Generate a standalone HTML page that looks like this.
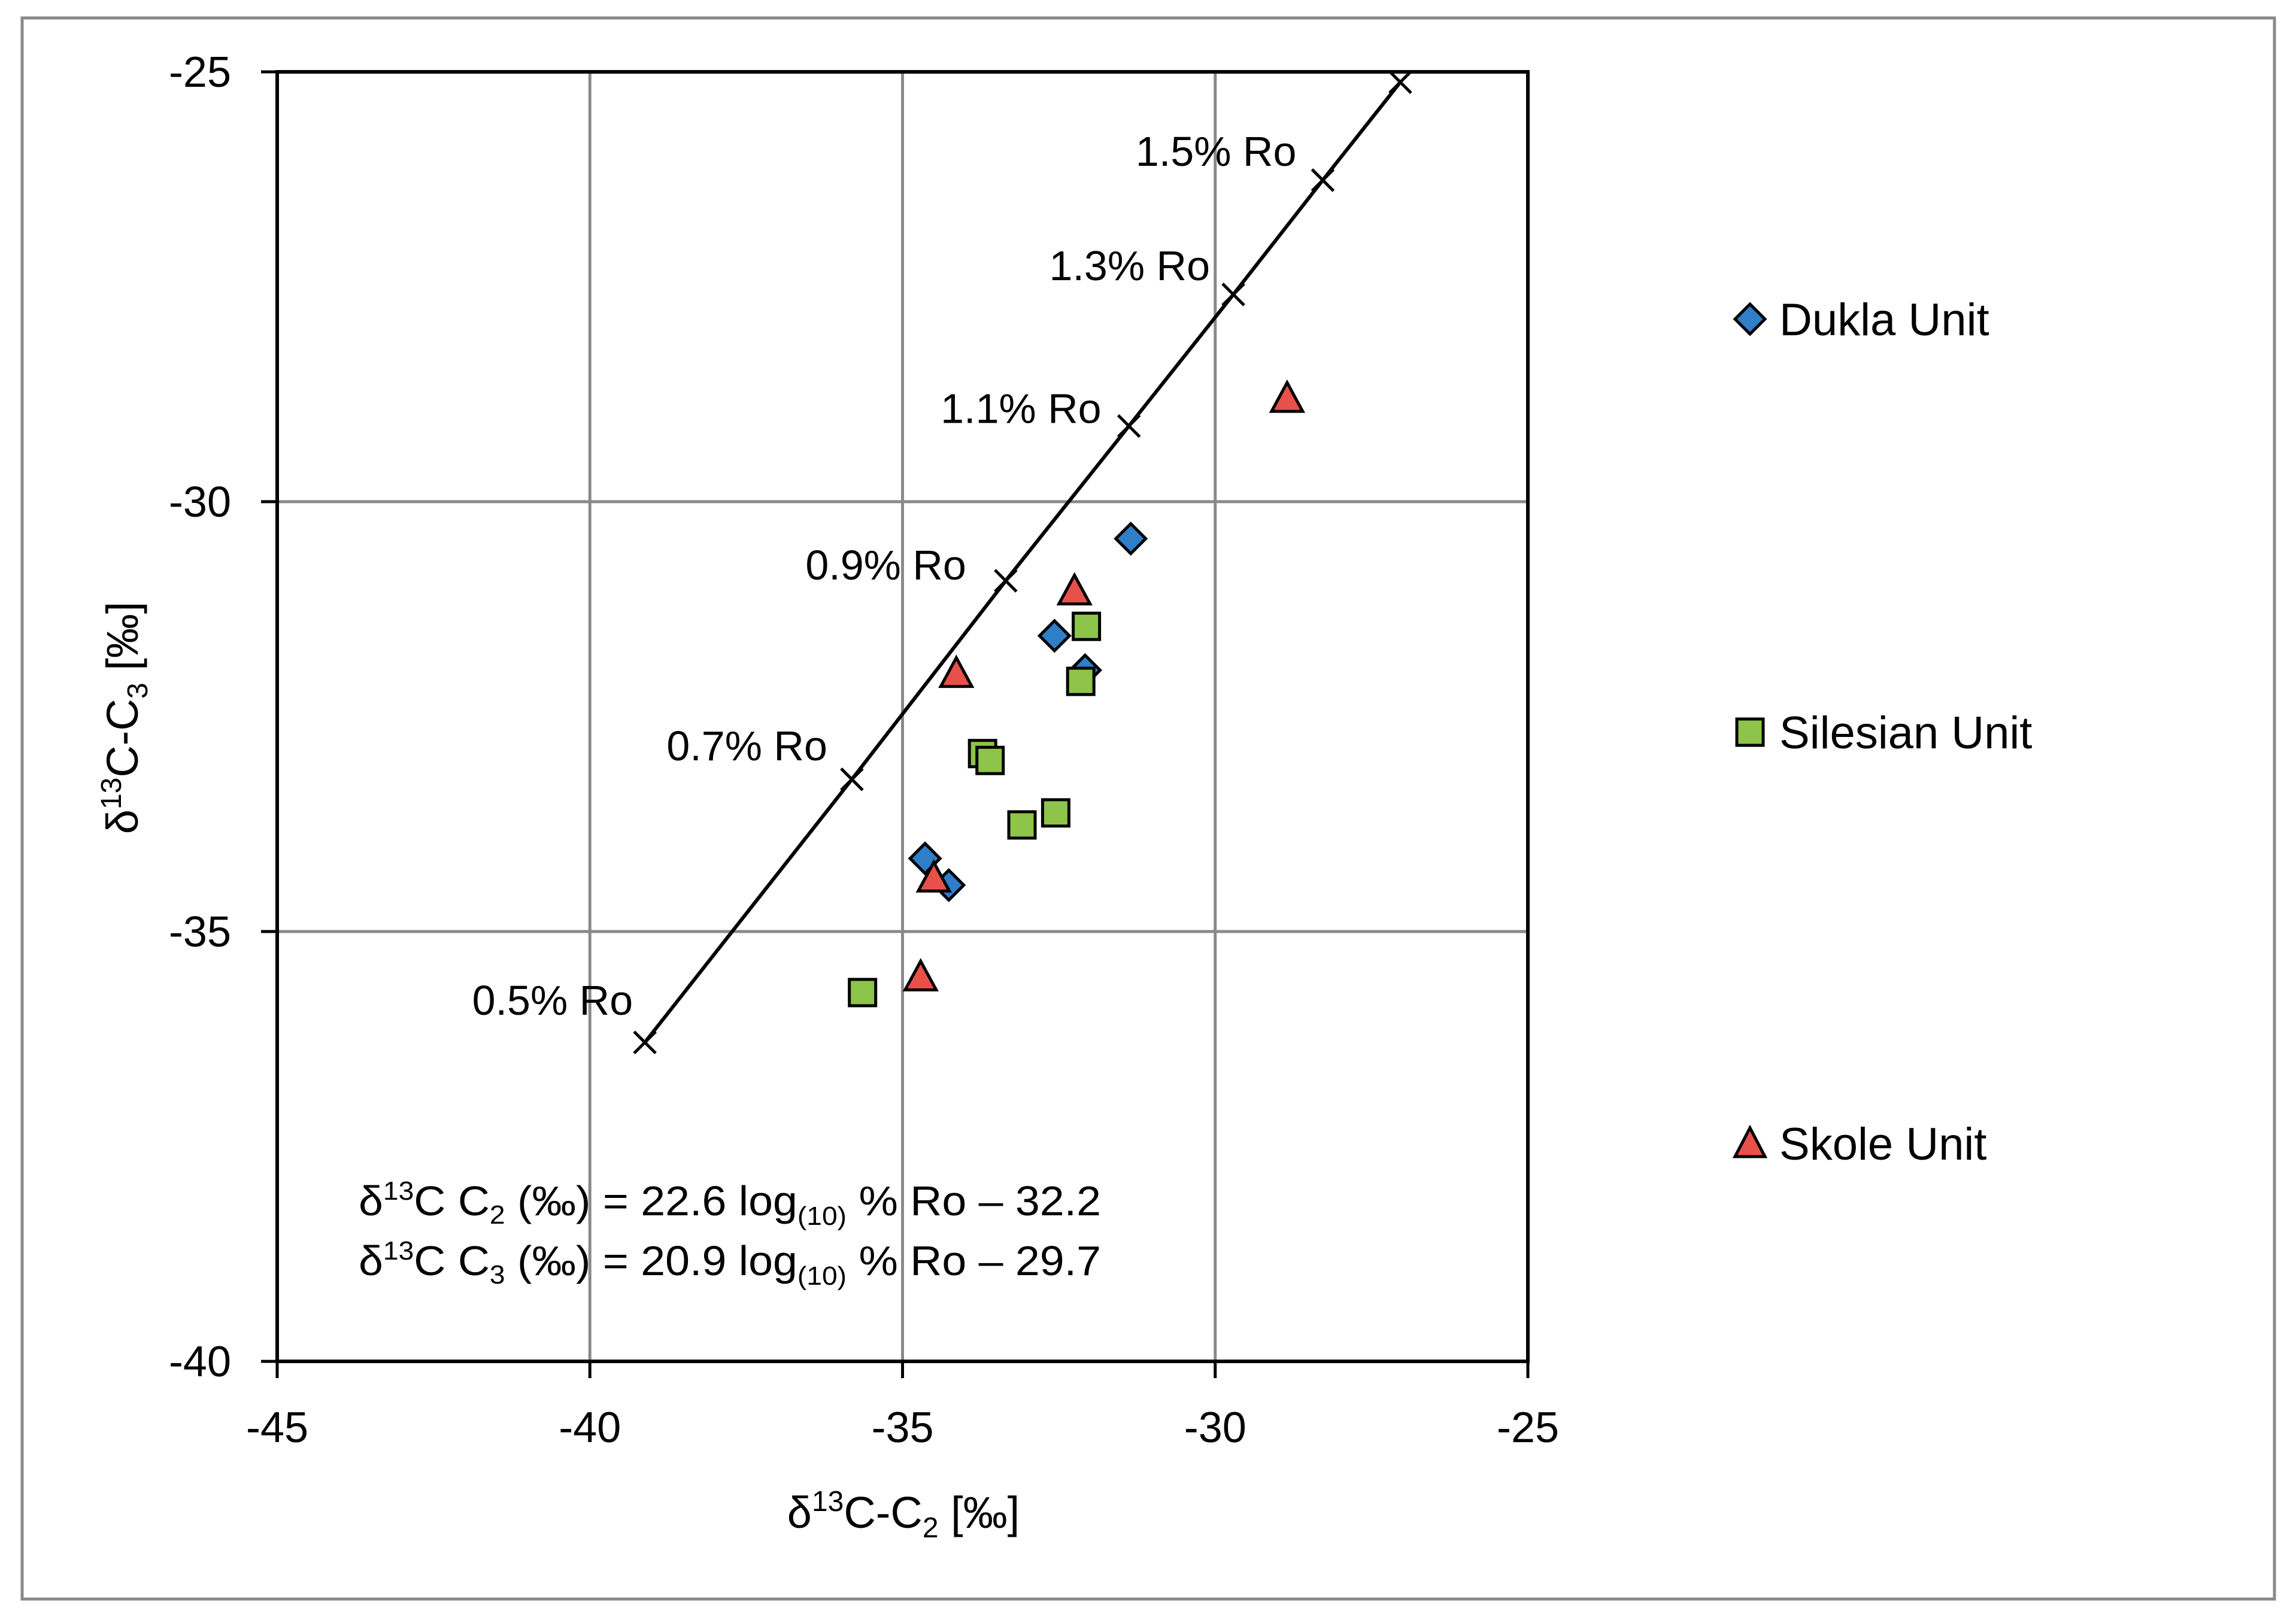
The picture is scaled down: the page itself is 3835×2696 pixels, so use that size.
<!DOCTYPE html>
<html><head><meta charset="utf-8"><style>
html,body{margin:0;padding:0;background:#fff}
svg{display:block;font-family:"Liberation Sans",sans-serif}
</style></head><body>
<svg id="chart" width="3835" height="2696" viewBox="0 0 3835 2696" xmlns="http://www.w3.org/2000/svg">
<rect x="37" y="30" width="3762" height="2641" fill="#fff" stroke="#898989" stroke-width="5"/>
<g id="grid"></g>
<g id="axes"></g>
<g id="roline"></g>
<g id="marks"></g>
<text x="599" y="2030" font-size="70" textLength="1240" lengthAdjust="spacingAndGlyphs">δ<tspan font-size="44" dy="-26">13</tspan><tspan dy="26">C C</tspan><tspan font-size="44" dy="14">2</tspan><tspan dy="-14"> (‰) = 22.6 log</tspan><tspan font-size="44" dy="16">(10)</tspan><tspan dy="-16"> % Ro – 32.2</tspan></text>
<text x="599" y="2130" font-size="70" textLength="1240" lengthAdjust="spacingAndGlyphs">δ<tspan font-size="44" dy="-26">13</tspan><tspan dy="26">C C</tspan><tspan font-size="44" dy="14">3</tspan><tspan dy="-14"> (‰) = 20.9 log</tspan><tspan font-size="44" dy="16">(10)</tspan><tspan dy="-16"> % Ro – 29.7</tspan></text>
<text x="1509" y="2552" font-size="74" text-anchor="middle">δ<tspan font-size="48" dy="-28">13</tspan><tspan dy="28">C-C</tspan><tspan font-size="48" dy="16">2</tspan><tspan dy="-16"> [‰]</tspan></text>
<text transform="translate(230,1199) rotate(-90)" font-size="74" text-anchor="middle">δ<tspan font-size="48" dy="-28">13</tspan><tspan dy="28">C-C</tspan><tspan font-size="48" dy="16">3</tspan><tspan dy="-16"> [‰]</tspan></text>
<g id="legend">
<g><polygon points="2923,508 2948,533 2923,558 2898,533" fill="#2e7ec8" stroke="#000" stroke-width="5"/><text x="2972" y="560" font-size="76">Dukla Unit</text></g>
<g><rect x="2901" y="1201" width="44" height="44" fill="#8dc449" stroke="#000" stroke-width="5"/><text x="2972" y="1250" font-size="76">Silesian Unit</text></g>
<g><polygon points="2923,1884 2948,1932 2898,1932" fill="#e8504a" stroke="#000" stroke-width="5"/><text x="2972" y="1937" font-size="76">Skole Unit</text></g>
</g>
</svg>
<script>
const xTicks=[-45,-40,-35,-30,-25];
const yTicks=[-25,-30,-35,-40];
const roLevels=[0.5,0.7,0.9,1.1,1.3,1.5,1.7];
const roC2=[-39.12,-35.81,-33.35,-31.38,-29.71,-28.28,-27.04];
const roC3=[-36.29,-33.23,-30.92,-29.12,-27.59,-26.26,-25.12];
const roLabels=["0.5% Ro","0.7% Ro","0.9% Ro","1.1% Ro","1.3% Ro","1.5% Ro",""];
const duklaX=[-31.35,-32.57,-32.08,-34.64,-34.26];
const duklaY=[-30.43,-31.56,-31.96,-34.15,-34.46];
const silesianX=[-32.06,-32.15,-33.72,-33.60,-32.55,-33.09,-35.64];
const silesianY=[-31.45,-32.09,-32.93,-33.01,-33.62,-33.76,-35.71];
const skoleX=[-28.85,-32.25,-34.14,-34.50,-34.71];
const skoleY=[-28.81,-31.05,-32.01,-34.39,-35.54];

const L=463,R=2552,T=120,B=2274;
const sx=v=>L+(v+45)/20*(R-L);
const sy=v=>T+(-25-v)/15*(B-T);
const NS="http://www.w3.org/2000/svg";
function mk(tag,attrs,parent){const e=document.createElementNS(NS,tag);for(const k in attrs)e.setAttribute(k,attrs[k]);parent.appendChild(e);return e;}
const grid=document.getElementById('grid'),axes=document.getElementById('axes'),ro=document.getElementById('roline'),marks=document.getElementById('marks');

xTicks.forEach(v=>{
  if(v>-45&&v<-25){const g=mk('line',{x1:sx(v),x2:sx(v),y1:T,y2:B,stroke:'#898989','stroke-width':5},grid);
  
  }
  const t=mk('line',{x1:sx(v),x2:sx(v),y1:B,y2:B+28,stroke:'#000','stroke-width':5},axes);
  
  
  const l=mk('text',{x:sx(v),y:2409,'font-size':72,'text-anchor':'middle'},axes);l.textContent=v;
  
  
});
yTicks.forEach(v=>{
  if(v<-25&&v>-40){const g=mk('line',{x1:L,x2:R,y1:sy(v),y2:sy(v),stroke:'#898989','stroke-width':5},grid);
  
  }
  const t=mk('line',{x1:L-27,x2:L,y1:sy(v),y2:sy(v),stroke:'#000','stroke-width':5},axes);
  
  
  const l=mk('text',{x:386,y:sy(v)+25,'font-size':72,'text-anchor':'end'},axes);l.textContent=v;
  
  
});
const frame=mk('rect',{x:L,y:T,width:R-L,height:B-T,fill:'none',stroke:'#000','stroke-width':6},axes);



const pl=mk('polyline',{points:roC2.map((c,i)=>sx(c)+','+sy(roC3[i])).join(' '),fill:'none',stroke:'#000','stroke-width':6},ro);


const labOff=[[-20,-46],[-41,-32],[-66,-2],[-46,-5],[-39,-24],[-44,-24],[0,0]];
roC2.forEach((c,i)=>{
  const x=sx(c),y=sy(roC3[i]);
  const p=mk('path',{d:`M${x-18},${y-18}L${x+18},${y+18}M${x-18},${y+18}L${x+18},${y-18}`,stroke:'#000','stroke-width':5},ro);
  
  
  if(roLabels[i]){const t=mk('text',{x:x+labOff[i][0],y:y+labOff[i][1],'font-size':70,'text-anchor':'end'},ro);t.textContent=roLabels[i];
  
  }
});
duklaX.forEach((v,i)=>{const x=sx(v),y=sy(duklaY[i]);
  const p=mk('polygon',{points:`${x},${y-25} ${x+25},${y} ${x},${y+25} ${x-25},${y}`,fill:'#2e7ec8',stroke:'#000','stroke-width':5},marks);
  
  });
silesianX.forEach((v,i)=>{const x=sx(v),y=sy(silesianY[i]);
  const p=mk('rect',{x:x-22,y:y-22,width:44,height:44,fill:'#8dc449',stroke:'#000','stroke-width':5},marks);
  
  });
skoleX.forEach((v,i)=>{const x=sx(v),y=sy(skoleY[i]);
  const p=mk('polygon',{points:`${x},${y-28} ${x+26},${y+20} ${x-26},${y+20}`,fill:'#e8504a',stroke:'#000','stroke-width':5},marks);
  
  });
</script>
</body></html>
